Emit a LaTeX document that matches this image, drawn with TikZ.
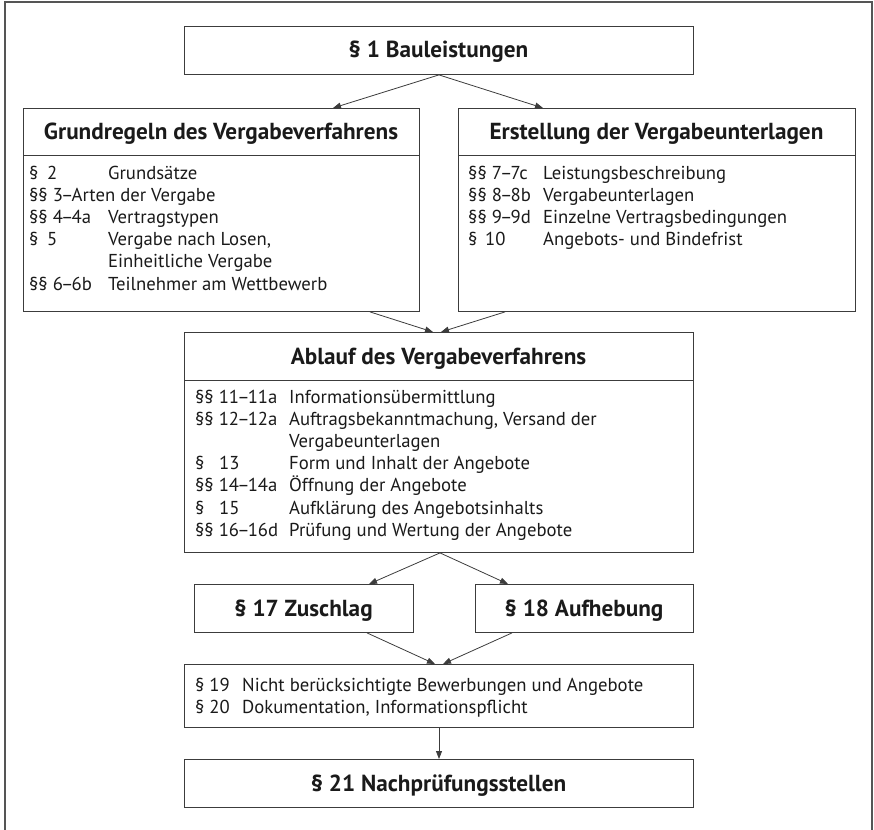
\documentclass[tikz,border=0pt]{standalone}
\usepackage{fontspec}
\setmainfont{PT Sans}
\usepackage{array}
\usetikzlibrary{arrows.meta,calc}
\definecolor{ln}{HTML}{3C3C3C}
\definecolor{fr}{HTML}{555555}
\definecolor{tx}{HTML}{1A1A1A}
\newcommand{\nd}{\kern-0.1em–\kern-0.1em}
\begin{document}
\begin{tikzpicture}[x=1pt,y=-1pt,
  box/.style={draw=ln, line width=0.9pt, rectangle, inner sep=0pt, anchor=north west},
  head/.style={font=\fontsize{23.2}{26}\selectfont\bfseries, text=tx, inner sep=0pt, anchor=base},
  body/.style={font=\fontsize{18.7}{22.2}\selectfont, text=tx, inner sep=0pt, anchor=base west},
  sepline/.style={draw=ln, line width=0.9pt},
  arr/.style={draw=ln, line width=0.8pt, -{Triangle[length=8pt,width=6pt]}},
  frame/.style={draw=fr, line width=1.5pt}
]
\useasboundingbox (0,0) rectangle (874,829);
\draw[frame] (5,2) rectangle (872,845);

% boxes
\node[box, minimum width=509pt, minimum height=48pt] (top) at (184,26) {};
\node[box, minimum width=396pt, minimum height=203pt] (lft) at (23,108) {};
\node[box, minimum width=397pt, minimum height=203pt] (rgt) at (458,108) {};
\node[box, minimum width=509pt, minimum height=220pt] (abl) at (184,332) {};
\node[box, minimum width=219pt, minimum height=48pt] (zus) at (194,584) {};
\node[box, minimum width=218pt, minimum height=48pt] (auf) at (475,584) {};
\node[box, minimum width=509pt, minimum height=63pt] (doc) at (184,664) {};
\node[box, minimum width=509pt, minimum height=48pt] (nach) at (184,759) {};

% separators
\draw[sepline] ([yshift=-47pt]lft.north west) -- ([yshift=-47pt]lft.north east);
\draw[sepline] ([yshift=-47pt]rgt.north west) -- ([yshift=-47pt]rgt.north east);
\draw[sepline] ([yshift=-48pt]abl.north west) -- ([yshift=-48pt]abl.north east);

% headings
\node[head] (htop) at (438.5,58) {§ 1 Bauleistungen};
\node[head] (hlft) at (221,139.5) {Grundregeln des Vergabeverfahrens};
\node[head] (hrgt) at (656.5,139.5) {Erstellung der Vergabeunterlagen};
\node[head] (habl) at (438.5,364) {Ablauf des Vergabeverfahrens};
\node[head] (hzus) at (303.5,616) {§ 17 Zuschlag};
\node[head] (hauf) at (584,616) {§ 18 Aufhebung};
\node[head] (hnach) at (438.5,791) {§ 21 Nachprüfungsstellen};

% body texts
\node[body] (blft) at (29,179) {%
\begin{tabular}[t]{@{}p{18pt}@{}p{61pt}@{}l@{}}
§ & 2 & Grundsätze\\
\multicolumn{3}{@{}l@{}}{§§ 3\nd Arten der Vergabe}\\
\multicolumn{2}{@{}p{79pt}@{}}{§§ 4\nd 4a} & Vertragstypen\\
§ & 5 & Vergabe nach Losen,\\
 & & Einheitliche Vergabe\\
\multicolumn{2}{@{}p{79pt}@{}}{§§ 6\nd 6b} & Teilnehmer am Wettbewerb
\end{tabular}};

\node[body] (brgt) at (468,179) {%
\begin{tabular}[t]{@{}p{17pt}@{}p{58pt}@{}l@{}}
\multicolumn{2}{@{}p{75pt}@{}}{§§ 7\nd 7c} & Leistungsbeschreibung\\
\multicolumn{2}{@{}p{75pt}@{}}{§§ 8\nd 8b} & Vergabeunterlagen\\
\multicolumn{2}{@{}p{75pt}@{}}{§§ 9\nd 9d} & Einzelne Vertragsbedingungen\\
§ & 10 & Angebots- und Bindefrist
\end{tabular}};

\node[body] (babl) at (195,403) {%
\begin{tabular}[t]{@{}p{24pt}@{}p{70pt}@{}l@{}}
\multicolumn{2}{@{}p{94pt}@{}}{§§ 11\nd 11a} & Informationsübermittlung\\
\multicolumn{2}{@{}p{94pt}@{}}{§§ 12\nd 12a} & Auftragsbekanntmachung, Versand der\\
 & & Vergabeunterlagen\\
§ & 13 & Form und Inhalt der Angebote\\
\multicolumn{2}{@{}p{94pt}@{}}{§§ 14\nd 14a} & Öffnung der Angebote\\
§ & 15 & Aufklärung des Angebotsinhalts\\
\multicolumn{2}{@{}p{94pt}@{}}{§§ 16\nd 16d} & Prüfung und Wertung der Angebote
\end{tabular}};

\node[body] (bdoc) at (195,691) {%
\begin{tabular}[t]{@{}p{47pt}@{}l@{}}
§ 19 & Nicht berücksichtigte Bewerbungen und Angebote\\
§ 20 & Dokumentation, Informationspflicht
\end{tabular}};

% connectors
\draw[arr] (top.south) -- ([xshift=310pt]lft.north west);
\draw[arr] (top.south) -- ([xshift=85pt]rgt.north west);
\draw[arr] ([xshift=347pt]lft.south west) -- ([xshift=249pt]abl.north west);
\draw[arr] ([xshift=47pt]rgt.south west) -- ([xshift=257pt]abl.north west);
\draw[arr] ([xshift=256pt]abl.south west) -- ([xshift=175pt]zus.north west);
\draw[arr] ([xshift=256pt]abl.south west) -- ([xshift=33pt]auf.north west);
\draw[arr] ([xshift=173pt]zus.south west) -- ([xshift=251pt]doc.north west);
\draw[arr] ([xshift=37pt]auf.south west) -- ([xshift=259pt]doc.north west);
\draw[arr] ([xshift=255pt]doc.south west) -- ([xshift=255pt]nach.north west);
\end{tikzpicture}
\end{document}
